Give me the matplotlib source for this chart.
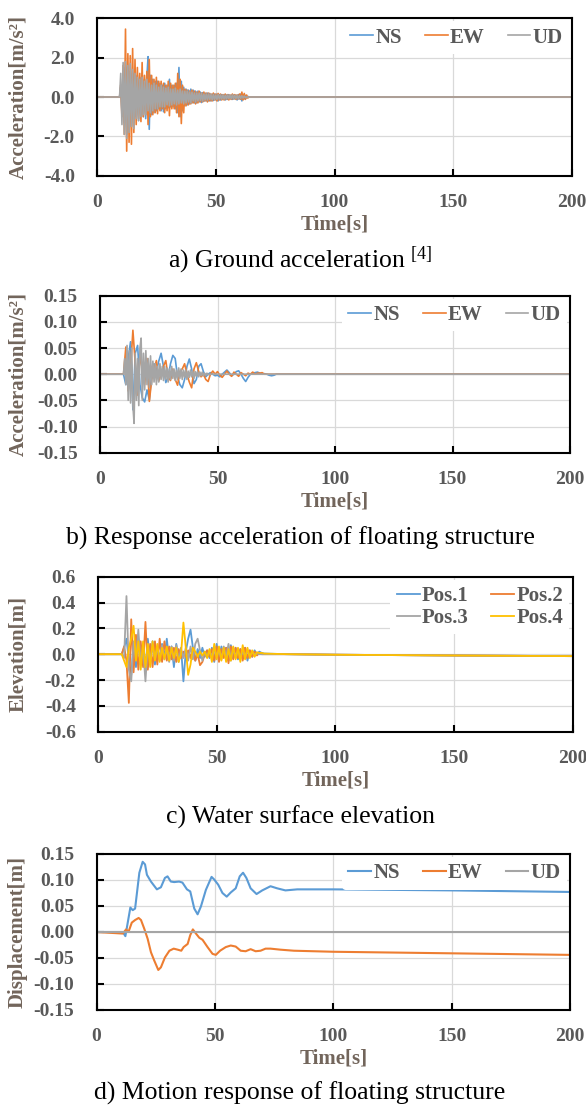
import numpy as np
import matplotlib
matplotlib.use("Agg")
import matplotlib.pyplot as plt

plt.rcParams['font.family'] = ['Liberation Serif', 'DejaVu Serif']
plt.rcParams['font.weight'] = 'bold'
plt.rcParams['axes.labelweight'] = 'bold'
plt.rcParams['axes.unicode_minus'] = False
plt.rcParams['mathtext.default'] = 'regular'

# colours (Excel defaults)
BLUE = '#5B9BD5'
ORANGE = '#ED7D31'
GRAY = '#A5A5A5'
YELLOW = '#FFC000'
TXT = '#595959'
LBL = '#72655B'

# ---- a) ground acceleration, peaks every 0.5 s from t = 9.5 s ----
a_t0, a_dt = 9.5, 0.5
a_ns = [0.0, 0.5, -0.8, 1.1, -1.3, 1.5, -1.9, 1.4, -1.6, 1.3, -1.5, 1.2, -1.3,
        1.3, -1.0, 1.1, -1.2, 1.0, -0.9, 1.2, -1.0, 0.9, -1.1, 1.0, 2.05, -1.64,
        1.1, -0.9, 0.9, -0.8, 0.8, -0.7, 0.8, -0.6, 0.7, -0.7, 0.6, -0.75,
        0.7, -0.6, 0.6, -0.55, 0.9, -0.5, 0.6, -0.5, 0.6, -0.6, 0.7, -0.8,
        1.5, -1.0, 0.8, -0.7, 0.5, -0.45, 0.4, -0.4, 0.35, -0.35, 0.4, -0.3,
        0.35, -0.3, 0.3, -0.3, 0.3, -0.25, 0.25, -0.28, 0.22, -0.22, 0.2, -0.2,
        0.2, -0.2, 0.18, -0.2, 0.15, -0.18, 0.15, -0.15, 0.15, -0.2, 0.12, -0.15,
        0.12, -0.12, 0.12, -0.15, 0.1, -0.12, 0.12, -0.1, 0.1, -0.12, 0.1, -0.1,
        0.1, -0.15, 0.12, -0.1, 0.15, -0.2, 0.12, -0.1, 0.08, -0.05, 0.03, 0.0]
a_ew = [0.0, 0.6, -1.0, 1.6, -1.9, 3.45, -2.75, 2.2, -2.3, 2.1, -2.4, 2.46, -1.8,
        1.9, -1.4, 1.5, -1.1, 1.2, -1.25, 1.75, -1.0, 1.1, -0.9, 1.3, -1.4, 1.9,
        -1.0, 1.1, -0.9, 0.9, -0.8, 1.0, -0.85, 0.8, -0.7, 0.8, -0.6, 0.7,
        -0.8, 0.6, -0.7, 0.8, -0.95, 0.7, -0.6, 0.6, -0.6, 0.7, -0.8, 1.2,
        -1.0, 0.9, -1.35, 0.6, -0.8, 0.4, -0.45, 0.35, -0.4, 0.3, -0.35, 0.35,
        -0.3, 0.3, -0.35, 0.25, -0.3, 0.3, -0.25, 0.2, -0.25, 0.25, -0.2, 0.2,
        -0.25, 0.2, -0.2, 0.15, -0.2, 0.2, -0.15, 0.15, -0.2, 0.18, -0.15, 0.15,
        -0.15, 0.12, -0.15, 0.15, -0.12, 0.12, -0.15, 0.1, -0.12, 0.15, -0.1, 0.12,
        -0.12, 0.1, -0.1, 0.15, -0.12, 0.25, -0.15, 0.18, -0.12, 0.1, -0.05, 0.0]
a_ud = [0.0, 1.2, -1.4, 1.75, -1.9, 1.8, -2.1, 1.6, -1.8, 1.7, -1.5, 1.4, -1.6,
        1.2, -1.1, 1.0, -1.2, 0.9, -1.0, 1.0, -0.9, 0.8, -0.9, 0.9, -0.7,
        0.7, -0.8, 0.6, -0.7, 0.7, -0.6, 0.6, -0.6, 0.5, -0.5, 0.6, -0.5,
        0.5, -0.5, 0.45, -0.4, 0.5, -0.45, 0.4, -0.4, 0.4, -0.35, 0.45, -0.4,
        0.35, -0.35, 0.4, -0.3, 0.3, -0.35, 0.3, -0.3, 0.3, -0.25, 0.25, -0.3,
        0.25, -0.2, 0.2, -0.25, 0.2, -0.2, 0.2, -0.18, 0.18, -0.2, 0.15, -0.15,
        0.15, -0.15, 0.15, -0.12, 0.12, -0.14, 0.12, -0.12, 0.1, -0.12, 0.12, -0.1,
        0.1, -0.1, 0.1, -0.1, 0.08, -0.1, 0.1, -0.08, 0.08, -0.08, 0.1, -0.08,
        0.08, -0.07, 0.07, -0.08, 0.07, -0.06, 0.06, -0.05, 0.05, -0.03, 0.0]

# ---- b) response acceleration ----
b_t0 = 10.0
b_ns = [0.0, -0.02, 0.03, 0.062, -0.068, 0.04, 0.055, -0.02, -0.045, -0.053,
        -0.03, -0.049, 0.0, 0.02, 0.005, 0.025, 0.040, 0.015, -0.016, -0.005,
        0.02, 0.036, 0.03, -0.005, -0.02, -0.026, -0.01, 0.015, 0.029, 0.01,
        -0.018, -0.01, 0.015, 0.02, 0.005, -0.005, 0.0, 0.003, 0.0, -0.003,
        -0.002, -0.005, 0.0, 0.004, 0.008, 0.003, -0.003, 0.0, 0.005, 0.0065,
        0.0, -0.008, -0.014, -0.006, 0.0, 0.002, 0.003, 0.004, 0.002, 0.0,
        0.001, 0.0, -0.002, -0.003, -0.002, 0.0]
b_ew = [0.0, 0.052, -0.032, 0.01, 0.084, 0.02, -0.04, 0.035, 0.01, -0.02,
        0.03, -0.052, -0.01, 0.01, 0.026, -0.013, 0.0, 0.015, 0.026, -0.005,
        -0.012, 0.01, -0.01, -0.021, 0.005, 0.01, 0.02, 0.0, -0.015, -0.026,
        0.01, 0.022, 0.005, -0.005, 0.0, -0.01, -0.014, 0.0, 0.006, 0.0,
        0.005, -0.002, -0.006, 0.0, 0.006, 0.0, -0.004, 0.004, 0.0, -0.004,
        0.003, 0.0, -0.003, 0.002, 0.0, 0.004, 0.0, 0.002, 0.002, 0.003,
        0.0, 0.0, 0.0, 0.0, 0.0, 0.0]
b_ud = [0.0, 0.03, -0.02, 0.055, -0.05, 0.045, -0.055, 0.05, -0.06, -0.094,
        0.04, -0.05, 0.03, -0.06, 0.05, 0.069, -0.05, 0.04, -0.03, 0.045,
        -0.02, 0.03, -0.025, 0.035, -0.02, 0.025, -0.015, 0.02, -0.02, 0.015,
        -0.015, 0.02, -0.01, 0.015, -0.012, 0.015, -0.01, 0.012, -0.015, 0.01,
        -0.01, 0.015, -0.008, 0.01, -0.012, 0.008, -0.01, 0.012, -0.008, 0.01,
        -0.01, 0.008, -0.006, 0.008, -0.01, 0.006, -0.006, 0.008, -0.005, 0.006,
        -0.008, 0.005, -0.004, 0.005, -0.005, 0.004, -0.003, 0.004, -0.003, 0.002,
        -0.002, 0.002, -0.001, 0.0, 0.0]

# ---- c) water surface elevation, one value per second from t = 10 s ----
c_t0 = 10.0
c_p1 = [0.0, 0.05, 0.12, -0.05, -0.16, 0.08, -0.1, 0.1, -0.08, 0.06, -0.1,
        0.12, -0.06, 0.1, -0.08, 0.05, -0.05, 0.08, -0.03, 0.12, -0.05,
        0.06, -0.1, 0.08, -0.04, 0.05, -0.21, 0.02, 0.12, 0.19, 0.05,
        -0.05, 0.04, -0.03, 0.05, -0.02, 0.03, -0.03, 0.05, -0.06, 0.08,
        -0.04, 0.06, -0.02, 0.05, -0.05, 0.07, -0.03, 0.05, -0.04, 0.04,
        -0.03, 0.05, -0.05, 0.03, -0.02, 0.03, 0.0, 0.02, 0.01, 0.005]
c_p2 = [0.0, 0.06, -0.05, -0.377, 0.27, -0.14, 0.15, -0.12, 0.1, -0.1, 0.25,
        -0.12, 0.08, -0.1, 0.1, -0.08, 0.12, -0.06, 0.1, -0.05, 0.06,
        -0.04, 0.05, -0.06, 0.04, -0.03, 0.02, -0.02, 0.03, -0.03, 0.05,
        -0.05, 0.0, -0.085, -0.06, 0.0, 0.03, -0.02, 0.04, -0.05, 0.06,
        -0.06, 0.04, -0.03, 0.05, -0.07, 0.06, -0.04, 0.05, -0.03, 0.04,
        -0.05, 0.05, -0.03, 0.03, -0.02, 0.02, -0.01, 0.01, 0.0, 0.0]
c_p3 = [0.0, -0.03, 0.45, -0.12, -0.21, 0.1, -0.05, 0.19, -0.08, 0.05, -0.21,
        0.08, -0.05, 0.06, -0.04, 0.05, -0.03, 0.07, -0.04, 0.05, -0.06,
        0.06, -0.05, 0.07, -0.06, 0.04, -0.03, 0.05, -0.05, 0.06, -0.04,
        0.08, 0.12, 0.03, -0.05, 0.02, -0.02, 0.03, -0.03, 0.05, -0.02,
        0.03, -0.04, 0.06, -0.03, 0.08, -0.05, 0.05, -0.03, 0.03, -0.02,
        0.02, -0.01, 0.02, -0.01, 0.01, 0.0, 0.005, 0.0, 0.0, 0.0]
c_p4 = [0.0, -0.05, -0.1, 0.05, 0.12, 0.22, -0.05, 0.1, -0.12, 0.1, -0.1,
        0.08, -0.1, 0.1, -0.05, 0.08, -0.06, 0.05, -0.04, 0.06, -0.05,
        0.05, -0.03, 0.05, -0.06, 0.0, 0.245, 0.05, -0.16, -0.08, 0.05,
        0.02, -0.02, 0.02, -0.01, 0.02, -0.03, 0.04, -0.06, 0.08, -0.04,
        0.06, -0.05, 0.05, -0.06, 0.04, -0.05, 0.06, -0.04, 0.05, -0.06,
        0.07, -0.04, 0.05, -0.03, 0.03, -0.02, 0.015, 0.01, 0.01, 0.005]
c_tail_t = [80, 100, 150, 200]
c_tail_v = [0.0, -0.004, -0.01, -0.015]

# ---- d) motion response ----
d_t = [0, 11.1, 12.2, 14.3, 15.3, 16.3, 18.1, 19.5, 20.5, 21.3, 23.0, 25.5,
       27.2, 28.9, 30.0, 31.4, 32.8, 34.9, 36.3, 38.2, 39.6, 41.3, 42.7, 44.1,
       46.2, 48.6, 49.7, 51.4, 53.2, 55.0, 56.7, 58.8, 60.5, 61.9, 63.3, 65.1,
       67.6, 70.0, 73.5, 76.3, 79.8, 84.8, 100, 150, 200]
d_ns = [0.0, 0.0, -0.008, 0.047, 0.042, 0.045, 0.114, 0.135, 0.130, 0.110,
        0.097, 0.082, 0.086, 0.104, 0.107, 0.097, 0.096, 0.097, 0.095, 0.082,
        0.078, 0.045, 0.034, 0.049, 0.081, 0.106, 0.101, 0.091, 0.075, 0.068,
        0.076, 0.084, 0.107, 0.114, 0.104, 0.084, 0.073, 0.080, 0.088, 0.084,
        0.080, 0.082, 0.082, 0.080, 0.077]
d_ew_t = [0, 11.1, 12.5, 13.5, 14.9, 16.3, 17.8, 18.8, 20.2, 21.6, 23.0, 24.4,
          26.1, 27.2, 28.9, 30.8, 32.6, 34.3, 35.8, 36.8, 38.5, 39.6, 40.7,
          42.0, 43.4, 44.8, 46.9, 49.0, 50.4, 52.2, 54.6, 56.7, 58.8, 60.9,
          63.0, 65.1, 67.2, 69.3, 71.4, 73.5, 77.7, 83.4, 100, 150, 200]
d_ew = [0.0, -0.003, 0.005, 0.0, 0.018, 0.023, 0.027, 0.023, 0.006, -0.013,
        -0.039, -0.055, -0.073, -0.068, -0.049, -0.036, -0.032, -0.034,
        -0.036, -0.029, -0.023, -0.006, 0.005, -0.003, -0.011, -0.015,
        -0.029, -0.042, -0.044, -0.036, -0.029, -0.026, -0.028, -0.036,
        -0.037, -0.033, -0.037, -0.036, -0.032, -0.032, -0.034, -0.036,
        -0.038, -0.041, -0.044]
d_ud_t = [0, 200]
d_ud = [0.0, 0.0]


def series(t0, dt, vals, end=200):
    t = t0 + dt * np.arange(len(vals))
    return np.r_[0, t, end], np.r_[0, vals, 0]


W, H = 586, 1106
fig = plt.figure(figsize=(W / 100, H / 100), dpi=100)


def make_ax(left, top, right, bottom, ylim, step, fmt, ylabel):
    ax = fig.add_axes([left / W, 1 - bottom / H, (right - left) / W, (bottom - top) / H])
    ax.set_xlim(0, 200)
    ax.set_ylim(-ylim, ylim)
    ax.set_xticks([0, 50, 100, 150, 200])
    yt = np.arange(-ylim, ylim + step / 2, step)
    ax.set_yticks(yt)
    ax.set_yticklabels([fmt % v for v in yt])
    ax.grid(True, color='#D9D9D9', linewidth=0.9)
    ax.set_axisbelow(True)
    for s in ax.spines.values():
        s.set_linewidth(1.5)
        s.set_color('#000000')
    ax.tick_params(direction='in', length=5, width=1.5, labelsize=14,
                   labelcolor=TXT, pad=16)
    ax.tick_params(axis='x', pad=13)
    # x axis title, centred under the frame
    ax.text(0.5, -49 / (bottom - top), 'Time[s]', transform=ax.transAxes,
            ha='center', va='center', fontsize=15, fontweight='bold', color=LBL)
    ax.text((18 - left) / (right - left), 0.5, ylabel, transform=ax.transAxes,
            rotation=90, ha='center', va='center', fontsize=15,
            fontweight='bold', color=LBL)
    return ax


def add_legend(ax, ncol, handles=None, labels=None):
    kw = dict(loc='upper right', ncol=ncol, frameon=True, fontsize=15,
              handlelength=1.1, handletextpad=0.1, columnspacing=1.1,
              borderaxespad=0.15, borderpad=0.3, labelspacing=0.1)
    if handles is not None:
        leg = ax.legend(handles, labels, **kw)
    else:
        leg = ax.legend(**kw)
    leg.get_frame().set_edgecolor('none')
    leg.get_frame().set_facecolor('white')
    leg.get_frame().set_alpha(1)
    for tx in leg.get_texts():
        tx.set_color(TXT)
    return leg


def caption(y, text):
    fig.text(300 / W, 1 - y / H, text, ha='center', va='center', fontsize=18.5,
             fontweight='normal', color='#000000')


# a)
ax = make_ax(97, 18.3, 572, 175.7, 4.0, 2.0, '%.1f', 'Acceleration[m/s²]')
for vals, col, name in [(a_ns, BLUE, 'NS'), (a_ew, ORANGE, 'EW'), (a_ud, GRAY, 'UD')]:
    t, v = series(a_t0, a_dt, vals)
    ax.plot(t, v, color=col, lw=1.2, label=name)
add_legend(ax, 3)
caption(260, 'a) Ground acceleration$^{\\ [4]}$')

# b)
ax = make_ax(100, 295.7, 570, 452.7, 0.15, 0.05, '%.2f', 'Acceleration[m/s²]')
for t0, dt, vals, col, name in [(b_t0, 1.0, b_ns, BLUE, 'NS'),
                                (b_t0, 1.0, b_ew, ORANGE, 'EW'),
                                (b_t0, 0.5, b_ud, GRAY, 'UD')]:
    t, v = series(t0, dt, vals)
    ax.plot(t, v, color=col, lw=1.2, label=name)
add_legend(ax, 3)
caption(538, 'b) Response acceleration of floating structure')

# c)
ax = make_ax(98, 576.7, 572.5, 731.7, 0.6, 0.2, '%.1f', 'Elevation[m]')
lines = []
for vals, col, name in [(c_p1, BLUE, 'Pos.1'), (c_p2, ORANGE, 'Pos.2'),
                        (c_p3, GRAY, 'Pos.3'), (c_p4, YELLOW, 'Pos.4')]:
    t = np.r_[0, c_t0 + np.arange(len(vals)), c_tail_t]
    v = np.r_[0, vals, c_tail_v]
    ln, = ax.plot(t, v, color=col, lw=1.3, label=name)
    lines.append(ln)
# legend filled row by row: Pos.1 Pos.2 / Pos.3 Pos.4
order = [0, 2, 1, 3]
add_legend(ax, 2, [lines[i] for i in order], [lines[i].get_label() for i in order])
caption(817, 'c) Water surface elevation')

# d)
ax = make_ax(96.5, 854, 570, 1010, 0.15, 0.05, '%.2f', 'Displacement[m]')
ax.plot(d_t, d_ns, color=BLUE, lw=1.5, label='NS')
ax.plot(d_ew_t, d_ew, color=ORANGE, lw=1.5, label='EW')
ax.plot(d_ud_t, d_ud, color=GRAY, lw=1.5, label='UD')
add_legend(ax, 3)
caption(1093, 'd) Motion response of floating structure')

fig.savefig('out.png', dpi=100)
